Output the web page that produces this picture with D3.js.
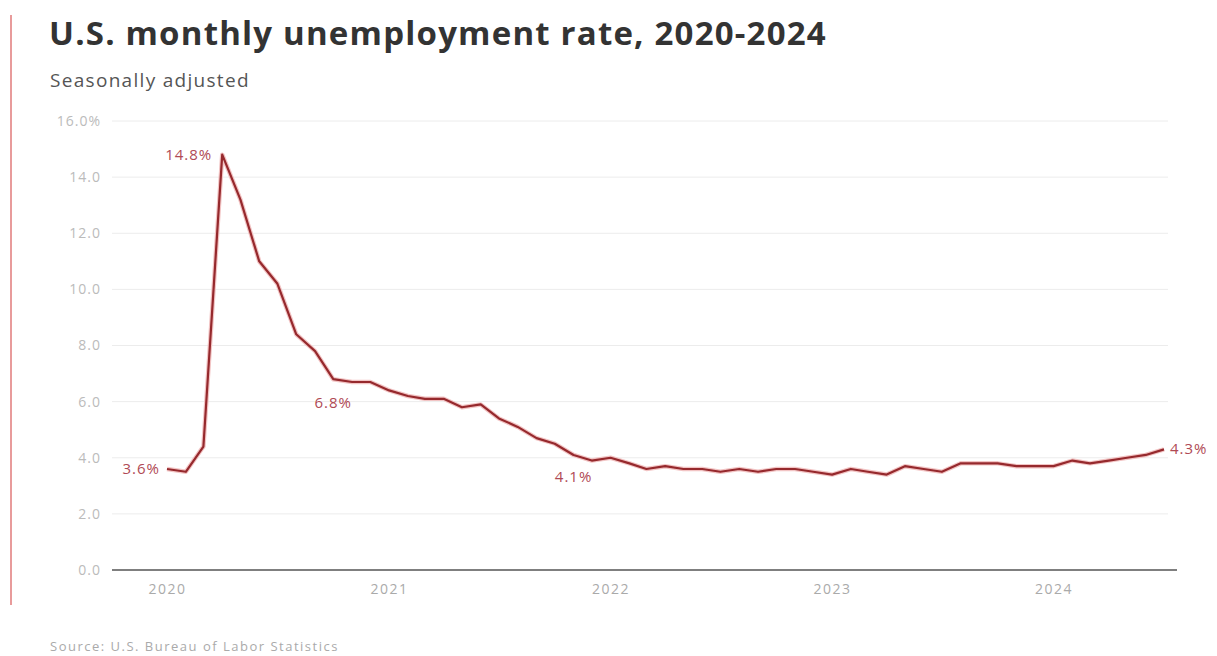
<!DOCTYPE html>
<html>
<head>
<meta charset="utf-8">
<script src="https://cdn.jsdelivr.net/npm/d3@7"></script>
<style>
  body { margin: 0; background: #fff; }
  svg { display: block; font-family: "Open Sans", "Noto Sans", sans-serif; }
</style>
</head>
<body>
<svg id="chart" width="1217" height="656"></svg>
<script>
// monthly rate, Jan 2020 .. Jul 2024
const rates2020 = [3.6, 3.5, 4.4, 14.8, 13.2, 11.0, 10.2, 8.4, 7.8, 6.8, 6.7, 6.7];
const rates2021 = [6.4, 6.2, 6.1, 6.1, 5.8, 5.9, 5.4, 5.1, 4.7, 4.5, 4.1, 3.9];
const rates2022 = [4.0, 3.8, 3.6, 3.7, 3.6, 3.6, 3.5, 3.6, 3.5, 3.6, 3.6, 3.5];
const rates2023 = [3.4, 3.6, 3.5, 3.4, 3.7, 3.6, 3.5, 3.8, 3.8, 3.8, 3.7, 3.7];
const rates2024 = [3.7, 3.9, 3.8, 3.9, 4.0, 4.1, 4.3];
const years = [2020, 2021, 2022, 2023, 2024];
const yTicks = [0, 2, 4, 6, 8, 10, 12, 14, 16];
const callouts = [
  { month: "2020-01", text: "3.6%" },
  { month: "2020-04", text: "14.8%" },
  { month: "2020-10", text: "6.8%" },
  { month: "2021-11", text: "4.1%" },
  { month: "2024-07", text: "4.3%" }
];

const rates = [].concat(rates2020, rates2021, rates2022, rates2023, rates2024);
const parseMonth = d3.timeParse("%Y-%m");
const start = parseMonth("2020-01");
const data = rates.map((v, i) => ({ date: d3.timeMonth.offset(start, i), value: v }));

const svg = d3.select("#chart");

const x = d3.scaleTime()
  .domain([start, data[data.length - 1].date])
  .range([167, 1164]);
const y = d3.scaleLinear().domain([0, 16]).range([570, 121]);

// red rule at left edge
svg.append("line")
  .attr("x1", 11).attr("x2", 11).attr("y1", 15).attr("y2", 605)
  .attr("stroke", "#e07a7a").attr("stroke-width", 1.5);

svg.append("text")
  .attr("x", 49).attr("y", 45)
  .attr("font-size", 33).attr("font-weight", 700)
  .attr("letter-spacing", 1.2)
  .attr("fill", "#333")
  .text("U.S. monthly unemployment rate, 2020-2024");

svg.append("text")
  .attr("x", 50).attr("y", 87)
  .attr("font-size", 19)
  .attr("letter-spacing", 1.3)
  .attr("fill", "#555")
  .text("Seasonally adjusted");

// gridlines + y labels
const yAxis = svg.append("g");
yAxis.selectAll("line")
  .data(yTicks.filter(d => d > 0))
  .join("line")
  .attr("x1", 112).attr("x2", 1168)
  .attr("y1", d => y(d)).attr("y2", d => y(d))
  .attr("stroke", "#ececec").attr("stroke-width", 1);

yAxis.selectAll("text")
  .data(yTicks)
  .join("text")
  .attr("x", 101)
  .attr("y", d => y(d))
  .attr("dy", "0.35em")
  .attr("text-anchor", "end")
  .attr("font-size", 14)
  .attr("letter-spacing", 1)
  .attr("fill", "#bbb")
  .text(d => d === 16 ? d.toFixed(1) + "%" : d.toFixed(1));

// x axis
const xAxis = d3.axisBottom(x)
  .tickValues(years.map(yr => new Date(yr, 0, 1)))
  .tickFormat(d3.timeFormat("%Y"))
  .tickSize(0)
  .tickPadding(14);

const gx = svg.append("g")
  .attr("transform", `translate(0,${y(0)})`)
  .call(xAxis);
gx.select(".domain").remove();
gx.selectAll("text")
  .attr("font-size", 14)
  .attr("letter-spacing", 1.5)
  .attr("fill", "#aaa")
  .attr("font-family", "'Open Sans', sans-serif");

svg.append("line")
  .attr("x1", 112).attr("x2", 1177)
  .attr("y1", y(0)).attr("y2", y(0))
  .attr("stroke", "#555").attr("stroke-width", 1.5);

// the series
const line = d3.line()
  .x(d => x(d.date))
  .y(d => y(d.value));

svg.append("path")
  .datum(data)
  .attr("d", line)
  .attr("fill", "none")
  .attr("stroke", "#f2c4c4")
  .attr("stroke-width", 4.5)
  .attr("stroke-linejoin", "round");

svg.append("path")
  .datum(data)
  .attr("d", line)
  .attr("fill", "none")
  .attr("stroke", "#96292d")
  .attr("stroke-width", 2.2)
  .attr("stroke-linejoin", "round");

// callout labels
const placement = {
  "2020-01": { dx: -7, dy: 0, anchor: "end" },
  "2020-04": { dx: -10, dy: 0, anchor: "end" },
  "2020-10": { dx: 0, dy: 24, anchor: "middle" },
  "2021-11": { dx: 0, dy: 22, anchor: "middle" },
  "2024-07": { dx: 6, dy: -1, anchor: "start" }
};

svg.append("g")
  .selectAll("text")
  .data(callouts)
  .join("text")
  .each(function (c) {
    const d = data.find(p => +p.date === +parseMonth(c.month));
    const p = placement[c.month];
    d3.select(this)
      .attr("x", x(d.date) + p.dx)
      .attr("y", y(d.value) + p.dy)
      .attr("dy", "0.35em")
      .attr("text-anchor", p.anchor);
  })
  .attr("font-size", 15)
  .attr("letter-spacing", 1)
  .attr("fill", "#b04a55")
  .text(c => c.text);

svg.append("text")
  .attr("x", 50).attr("y", 651)
  .attr("font-size", 13)
  .attr("letter-spacing", 1.5)
  .attr("fill", "#aaa")
  .text("Source: U.S. Bureau of Labor Statistics");
</script>
</body>
</html>
